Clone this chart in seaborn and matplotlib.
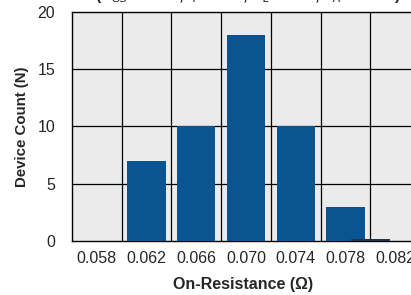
import numpy as np
import pandas as pd
import matplotlib
matplotlib.use("Agg")
import matplotlib.pyplot as plt
import seaborn as sns
from matplotlib.ticker import MultipleLocator

# Data
resistance = [0.062, 0.066, 0.070, 0.074, 0.078, 0.080]
counts = [7, 10, 18, 10, 3, 0.15]
xtick_vals = [0.058, 0.062, 0.066, 0.070, 0.074, 0.078, 0.082]
xtick_labels = ["0.058", "0.062", "0.066", "0.070", "0.074", "0.078", "0.082"]

df = pd.DataFrame({"res": resistance, "count": counts})

sns.set_style("white")
plt.rcParams["font.family"] = ["Liberation Sans", "DejaVu Sans"]

fig = plt.figure(figsize=(4.11, 2.95), dpi=100)
ax = fig.add_axes([72 / 411, 1 - 241 / 295, 1 - 72 / 411 + 0.01, (241 - 12) / 295])
ax.set_facecolor("#ebebeb")

# native scale: width is relative to the smallest spacing (0.002)
sns.barplot(data=df, x="res", y="count", native_scale=True, width=1.54,
            color="#0a5591", saturation=1, linewidth=0, ax=ax, zorder=3)
ax.patches[-1].set_facecolor("#1c3550")

ax.set_xlim(0.056, 0.0836)
ax.set_ylim(0, 20)
ax.set_xticks(xtick_vals)
ax.set_xticklabels(xtick_labels)
ax.set_yticks([0, 5, 10, 15, 20])
ax.yaxis.set_minor_locator(MultipleLocator(2.5))

ax.grid(False)
for x in np.arange(0.060, 0.0815, 0.004):
    ax.axvline(x, color="black", lw=0.9, zorder=1)
for y in [5, 10, 15]:
    ax.axhline(y, color="black", lw=0.9, zorder=1)

ax.tick_params(axis="both", which="both", direction="in", labelsize=11.5,
               color="#555555", length=3, width=0.8)
ax.tick_params(axis="x", which="major", pad=7)
ax.tick_params(axis="y", which="major", length=0, pad=12)
for s in ["left", "bottom", "top"]:
    ax.spines[s].set_color("black")
    ax.spines[s].set_linewidth(1.0)
ax.spines["right"].set_visible(False)

ax.set_xlabel("On-Resistance (\u03a9)", fontsize=11.5, fontweight="bold", labelpad=8)
ax.set_ylabel("Device Count (N)", fontsize=10.8, fontweight="bold", labelpad=6)

# title clipped at the top of the image
fig.text(0.605, 1.018,
         "(V$_{GS}$ = 10 V, I$_{P}$ = 6 A, R$_{L}$ = 1 \u03a9, T$_{A}$ = 25\u00b0C)",
         ha="center", va="center", fontsize=11.5, fontweight="bold")

fig.savefig("out.png", dpi=100)
